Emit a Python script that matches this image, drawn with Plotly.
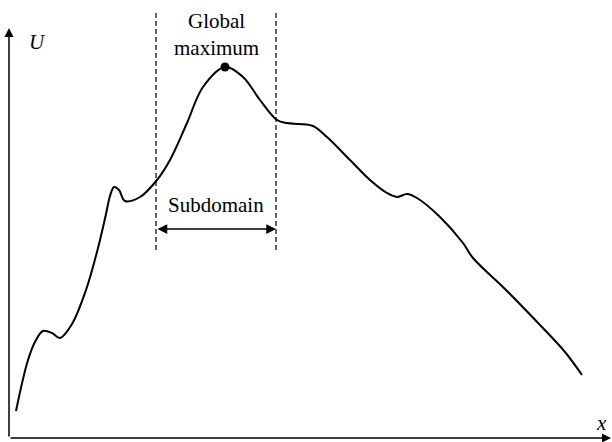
import plotly.graph_objects as go

# Curve data (x along horizontal axis, U vertical)
x_vals = [7, 19, 27, 34, 43, 51, 63, 77, 89, 97, 101, 105, 110, 116, 131, 148, 161, 178, 194,
          216, 234, 251, 268, 278, 291, 304, 318, 341, 361, 378, 388, 398, 408, 431, 454,
          464, 496, 531, 556, 573]
u_vals = [27, 78, 98, 107, 105, 100, 114, 148, 190, 224, 242, 251, 248, 237, 241, 258, 278, 315, 351,
          371, 361, 338, 318, 315, 314, 312, 301, 278, 258, 245, 241, 244, 240, 221, 195,
          180, 149, 113, 86, 63]

peak_x = [216]
peak_u = [371]

sub_left = 147
sub_right = 267
dash_top = 428
dash_bottom = 188
sub_arrow_u = 209

FONT = "Liberation Serif"

fig = go.Figure()
fig.add_trace(go.Scatter(x=x_vals, y=u_vals, mode="lines",
                         line=dict(color="black", width=2, shape="spline", smoothing=1.0),
                         hoverinfo="skip", showlegend=False))
fig.add_trace(go.Scatter(x=peak_x, y=peak_u, mode="markers",
                         marker=dict(color="black", size=9), showlegend=False))

shapes = []
for xv in (sub_left, sub_right):
    shapes.append(dict(type="line", x0=xv, x1=xv, y0=dash_bottom, y1=dash_top,
                       xref="x", yref="y", line=dict(color="black", width=1.2, dash="5px,3px")))
fig.update_layout(shapes=shapes)

ann = []
# axes with arrows
ann.append(dict(x=602, y=0, ax=0, ay=0, xref="x", yref="y", axref="x", ayref="y",
                showarrow=True, arrowhead=2, arrowsize=1.2, arrowwidth=1.5, arrowcolor="black", text=""))
ann.append(dict(x=0, y=410, ax=0, ay=0, xref="x", yref="y", axref="x", ayref="y",
                showarrow=True, arrowhead=2, arrowsize=1.2, arrowwidth=1.5, arrowcolor="black", text=""))
# subdomain double arrow
ann.append(dict(x=sub_right, y=sub_arrow_u, ax=sub_left, ay=sub_arrow_u, xref="x", yref="y",
                axref="x", ayref="y", showarrow=True, arrowhead=2, startarrowhead=2,
                arrowside="end+start", arrowsize=1.3, arrowwidth=1.5, arrowcolor="black", text=""))
ann.append(dict(x=207, y=233, xref="x", yref="y", text="Subdomain", showarrow=False,
                font=dict(family=FONT, size=21, color="black")))
ann.append(dict(x=207, y=404, xref="x", yref="y", text="Global<br>maximum", showarrow=False,
                font=dict(family=FONT, size=21, color="black")))
ann.append(dict(x=28, y=396, xref="x", yref="y", text="<i>U</i>", showarrow=False,
                font=dict(family=FONT, size=21, color="black")))
ann.append(dict(x=592, y=15, xref="x", yref="y", text="<i>x</i>", showarrow=False,
                font=dict(family=FONT, size=21, color="black")))
fig.update_layout(annotations=ann)

fig.update_layout(
    width=612, height=442,
    margin=dict(l=0, r=0, t=0, b=0),
    paper_bgcolor="white", plot_bgcolor="white",
    xaxis=dict(range=[-9, 603], visible=False, fixedrange=True),
    yaxis=dict(range=[-4, 438], visible=False, fixedrange=True),
    showlegend=False,
)

fig.write_html("out.html", config={"displayModeBar": False},
               post_script="document.body.style.margin='0';document.body.style.overflow='hidden';")
